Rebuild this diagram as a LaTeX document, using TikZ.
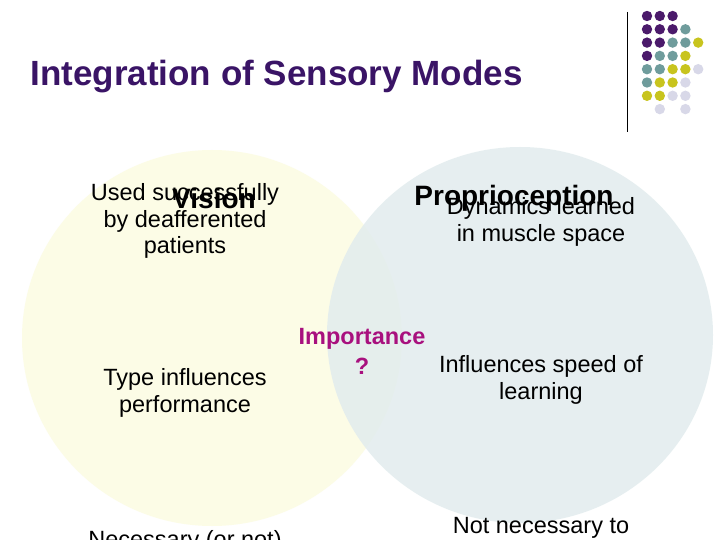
\documentclass[tikz,border=0pt]{standalone}
\usepackage{fontspec}
\setmainfont{Liberation Sans}
\begin{document}
\begin{tikzpicture}[x=1pt,y=-1pt,
  body/.style={align=center,font=\fontsize{23.5}{26.5}\selectfont,text=black},
  head/.style={font=\fontsize{28}{30}\selectfont\bfseries},
  dotP/.style={fill=dP},dotT/.style={fill=dT},dotY/.style={fill=dY},dotL/.style={fill=dL}]
\definecolor{dP}{HTML}{4B1A6B}\definecolor{dT}{HTML}{6F9C9C}
\definecolor{dY}{HTML}{C8C41E}\definecolor{dL}{HTML}{D8D8E8}
\definecolor{tcol}{HTML}{3A1466}\definecolor{mag}{HTML}{A8107E}
\definecolor{lfill}{HTML}{FCFCE6}\definecolor{rfill}{HTML}{E2ECEE}
\useasboundingbox (0,0) rectangle (720,540);
\clip (0,0) rectangle (720,540);
\fill[white] (0,0) rectangle (720,540);
\fill[lfill] (212,338) ellipse [x radius=190,y radius=188];
\fill[rfill,opacity=0.85] (520,335) ellipse [x radius=193,y radius=188];
\node[anchor=west,text=tcol,font=\fontsize{35}{40}\selectfont\bfseries] (title) at (27,77) {Integration of Sensory Modes};
\draw[black,line width=0.8] (627,12) -- (627,132);
\foreach \c/\r/\k in {0/0/P,1/0/P,2/0/P,
  0/1/P,1/1/P,2/1/P,3/1/T,
  0/2/P,1/2/P,2/2/T,3/2/T,4/2/Y,
  0/3/P,1/3/T,2/3/T,3/3/Y,
  0/4/T,1/4/T,2/4/Y,3/4/Y,4/4/L,
  0/5/T,1/5/Y,2/5/Y,3/5/L,
  0/6/Y,1/6/Y,2/6/L,3/6/L,
  1/7/L,3/7/L}
  \fill[dot\k] (647+12.8*\c,16+13.3*\r) circle (5.2);
\node[body] (used) at (185,221) {Used successfully\\by deafferented\\patients};
\node[head] (vision) at (214,198) {Vision};
\node[head] (prop) at (514,198) {Proprioception};
\node[body] (dyn) at (541,222) {Dynamics learned\\in muscle space};
\node[body] (type) at (185,393) {Type influences\\performance};
\node[align=center,text=mag,font=\fontsize{23.5}{30}\selectfont\bfseries] (imp) at (362,351) {Importance\\?};
\node[body] (speed) at (541,380) {Influences speed of\\learning};
\node[body,anchor=north] (nec) at (185,527) {Necessary (or not)};
\node[body,anchor=north] (notnec) at (541,514) {Not necessary to};
\end{tikzpicture}
\end{document}
